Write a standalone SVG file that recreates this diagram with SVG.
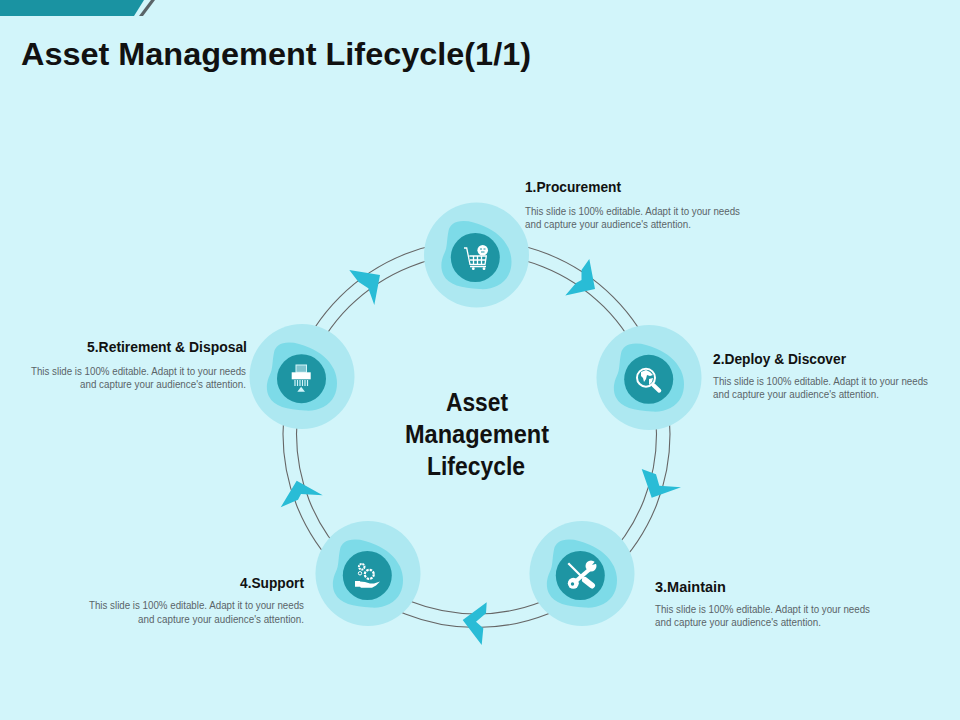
<svg xmlns="http://www.w3.org/2000/svg" width="960" height="720" viewBox="0 0 960 720">
<style>
.t{font-family:"Liberation Sans",Arial,sans-serif;font-weight:700;fill:#111}
.h{font-size:14px;fill:#111;font-family:"Liberation Sans",Arial,sans-serif;font-weight:700}
.d{font-size:10px;fill:#5a6468;font-family:"Liberation Sans",Arial,sans-serif}
.c{font-size:25px;font-family:"Liberation Sans",Arial,sans-serif;font-weight:700;fill:#111;text-anchor:middle}
.big{fill:#ade8f1}.blob{fill:#7ddbe8}.dark{fill:#1e95a3}
.ring{fill:none;stroke:#666;stroke-width:1.100}
.arr{fill:#29bcd6}
.ic{fill:#fff}.ics{fill:none;stroke:#fff;stroke-width:1.300}
</style>
<defs>
<path id="b" d="M-13-34C-22-34-27-30-28-24C-30-14-29-8-32-2C-36 6-36 14-33 20C-28 30-15 33 3 34C15 35 27 30 32 20C36 12 36 2 32-7C27-17 19-24 7-29C0-32-6-34-13-34Z"/>
</defs>
<rect width="960" height="720" fill="#d2f5fa"/>
<polygon points="0,0 144,0 134,16 0,16" fill="#1a93a2"/>
<polygon points="151,0 155,0 143,16 139,16" fill="#5a6468"/>
<text class="t" x="21" y="65" font-size="32" textLength="510" lengthAdjust="spacingAndGlyphs">Asset Management Lifecycle(1/1)</text>
<g id="connectors">
<circle class="ring" cx="476.500" cy="434" r="193.500"/>
<circle class="ring" cx="476.500" cy="434" r="180"/>
<polygon class="arr" points="565.300,295.500 576,283 581.500,280 581.500,270 589.300,259 595,289"/>
<polygon class="arr" points="641.700,469 656,474.300 659.300,485.700 681,487.300 651.700,497.700"/>
<polygon class="arr" points="486.700,602.300 486,613.300 476,621.700 483.300,628.300 481.700,645 462.700,620"/>
<polygon class="arr" points="296.700,480.700 322.700,495.300 301,494 298,499.700 280.700,507.300"/>
<polygon class="arr" points="349.300,270 380,275 374.300,305 368.300,288.300 358.300,281.700"/>
</g>
<g id="node1">
<circle class="big" cx="476.500" cy="255" r="52.500"/><use href="#b" class="blob" x="476.500" y="255"/><circle class="dark" cx="475.300" cy="257.500" r="24.500"/>
<path class="ics" d="M464 248h2.700l3.300 16.300h15.500M469.300 256h17l-1.300 8.300M470 260h16M473.500 256v8M477.500 256v8M481.500 256v8M470 266.500h16"/><circle class="ic" cx="482.700" cy="250.300" r="5.300"/><path d="M480 249h2M483.500 249h2M481 252h3.500" stroke="#1e95a3" stroke-width="1"/><circle class="ic" cx="473.300" cy="268.700" r="1.400"/><circle class="ic" cx="484" cy="268.700" r="1.400"/>
</g>
<g id="node2">
<circle class="big" cx="649" cy="377.500" r="52.500"/><use href="#b" class="blob" x="649" y="377.500"/><circle class="dark" cx="648.700" cy="379.300" r="24.500"/>
<circle cx="646" cy="377.700" r="9" fill="#1e95a3" stroke="#fff" stroke-width="2"/><path class="ic" d="M641 372l5-2 4 2 3 3-3 1-3-1-1 4-2 3-1-4-2-2zM649 379l4-1-1 4-3 3z"/><path d="M653.300 385l6 5.700" stroke="#fff" stroke-width="4" stroke-linecap="round"/>
</g>
<g id="node3">
<circle class="big" cx="582" cy="573.500" r="52.500"/><use href="#b" class="blob" x="582" y="573.500"/><circle class="dark" cx="580.300" cy="575.500" r="24.500"/>
<path d="M568.300 563.300l15 15" stroke="#fff" stroke-width="2.200"/><path d="M585 580l7 5.500" stroke="#fff" stroke-width="6" stroke-linecap="round"/>
<path d="M590 569l-14 12" stroke="#fff" stroke-width="4"/><circle cx="591" cy="566" r="5.500" fill="#fff"/><polygon points="592,565 597,559 599,563" fill="#1e95a3"/><circle cx="573.300" cy="583.300" r="5.500" fill="#fff"/><circle cx="572.500" cy="584" r="1.700" fill="#1e95a3"/>
</g>
<g id="node4">
<circle class="big" cx="368" cy="573.500" r="52.500"/><use href="#b" class="blob" x="368" y="573.500"/><circle class="dark" cx="367.300" cy="575.500" r="24.500"/>
<circle cx="361.700" cy="566.700" r="2.800" fill="none" stroke="#fff" stroke-width="2" stroke-dasharray="2 .7"/><circle cx="369.300" cy="574.300" r="4.500" fill="none" stroke="#fff" stroke-width="2.200" stroke-dasharray="2.500 1"/><circle cx="360" cy="573.300" r="1.700" fill="none" stroke="#fff"/>
<path class="ic" d="M355 581h5v.5l5 .5 5 1.500h4l6-2-4 4-4 2.300h-11l-1-1h-5z"/>
</g>
<g id="node5">
<circle class="big" cx="302" cy="376.500" r="52.500"/><use href="#b" class="blob" x="302" y="376.500"/><circle class="dark" cx="301.500" cy="378.700" r="24.500"/>
<rect x="296" y="365" width="10.500" height="7.300" fill="#7fc4cf" stroke="#d2f5fa"/><rect class="ic" x="291.700" y="372.300" width="19" height="7"/><path d="M295 380v6M297.500 380v6M300 380v6M302.500 380v6M305 380v6M307.500 380v6" stroke="#d2f5fa" stroke-width="1.200"/><path d="M297.300 391.700l3.800-5 3.900 5z" fill="#d2f5fa"/>
</g>
<text class="c" x="477" y="411" textLength="62" lengthAdjust="spacingAndGlyphs">Asset</text><text class="c" x="477" y="443" textLength="144" lengthAdjust="spacingAndGlyphs">Management</text><text class="c" x="476" y="475" textLength="98" lengthAdjust="spacingAndGlyphs">Lifecycle</text>
<g id="label1"><text class="h" x="525" y="192" textLength="96" lengthAdjust="spacingAndGlyphs">1.Procurement</text><text class="d" x="525" y="215" textLength="215" lengthAdjust="spacingAndGlyphs">This slide is 100% editable. Adapt it to your needs</text><text class="d" x="525" y="228" textLength="166" lengthAdjust="spacingAndGlyphs">and capture your audience's attention.</text></g>
<g id="label2"><text class="h" x="713" y="364" textLength="133" lengthAdjust="spacingAndGlyphs">2.Deploy &amp; Discover</text><text class="d" x="713" y="385" textLength="215" lengthAdjust="spacingAndGlyphs">This slide is 100% editable. Adapt it to your needs</text><text class="d" x="713" y="398" textLength="166" lengthAdjust="spacingAndGlyphs">and capture your audience's attention.</text></g>
<g id="label3"><text class="h" x="655" y="592" textLength="71" lengthAdjust="spacingAndGlyphs">3.Maintain</text><text class="d" x="655" y="613" textLength="215" lengthAdjust="spacingAndGlyphs">This slide is 100% editable. Adapt it to your needs</text><text class="d" x="655" y="626" textLength="166" lengthAdjust="spacingAndGlyphs">and capture your audience's attention.</text></g>
<g id="label4"><text class="h" x="240" y="588" textLength="64" lengthAdjust="spacingAndGlyphs">4.Support</text><text class="d" x="89" y="609" textLength="215" lengthAdjust="spacingAndGlyphs">This slide is 100% editable. Adapt it to your needs</text><text class="d" x="138" y="623" textLength="166" lengthAdjust="spacingAndGlyphs">and capture your audience's attention.</text></g>
<g id="label5"><text class="h" x="87" y="352" textLength="160" lengthAdjust="spacingAndGlyphs">5.Retirement &amp; Disposal</text><text class="d" x="31" y="375" textLength="215" lengthAdjust="spacingAndGlyphs">This slide is 100% editable. Adapt it to your needs</text><text class="d" x="80" y="388" textLength="166" lengthAdjust="spacingAndGlyphs">and capture your audience's attention.</text></g>
</svg>
